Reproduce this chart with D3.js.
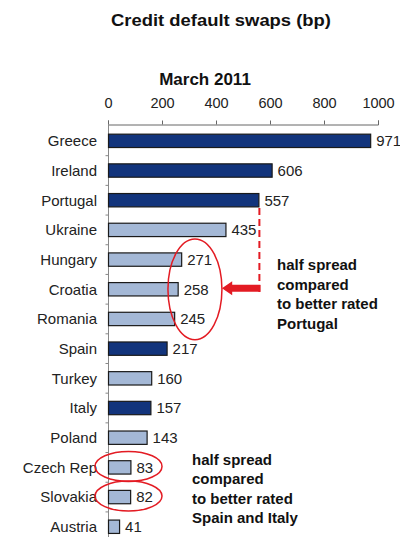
<!DOCTYPE html>
<html>
<head>
<meta charset="utf-8">
<script src="https://cdn.jsdelivr.net/npm/d3@7"></script>
<style>
  body { margin: 0; background: #fff; }
  text { font-family: "Liberation Sans", Arial, sans-serif; }
</style>
</head>
<body>
<svg id="chart" width="400" height="537"></svg>
<script>
// data
const countries = ["Greece", "Ireland", "Portugal", "Ukraine", "Hungary", "Croatia", "Romania",
  "Spain", "Turkey", "Italy", "Poland", "Czech Rep", "Slovakia", "Austria"];
const cds = [971, 606, 557, 435, 271, 258, 245, 217, 160, 157, 143, 83, 82, 41];
const euro = [true, true, true, false, false, false, false, true, false, true, false, false, false, false];
const tickValues = [0, 200, 400, 600, 800, 1000];
const note1 = ["half spread", "compared", "to better rated", "Portugal"];
const note2 = ["half spread", "compared", "to better rated", "Spain and Italy"];

const data = countries.map((c, i) => ({ name: c, value: cds[i], euro: euro[i] }));

const svg = d3.select("#chart");
const red = "#e31b23";

const x = d3.scaleLinear().domain([0, 1000]).range([108, 378]);
const y = d3.scaleBand()
  .domain(countries)
  .range([126, 541.6])
  .paddingInner(0.55)
  .paddingOuter(0.275);

svg.append("text")
  .attr("x", 221).attr("y", 26)
  .attr("text-anchor", "middle")
  .attr("font-size", 17).attr("font-weight", "bold")
  .attr("textLength", 220).attr("lengthAdjust", "spacingAndGlyphs")
  .attr("fill", "#111")
  .text("Credit default swaps (bp)");

svg.append("text")
  .attr("x", 205).attr("y", 85)
  .attr("text-anchor", "middle")
  .attr("font-size", 17).attr("font-weight", "bold")
  .attr("fill", "#111")
  .text("March 2011");

// top axis
const xAxis = svg.append("g")
  .attr("transform", "translate(0,124.5)")
  .call(d3.axisTop(x).tickValues(tickValues).tickFormat(d3.format("d")).tickSize(4).tickPadding(13));
xAxis.select(".domain").attr("stroke", "#666");
xAxis.selectAll(".tick line").attr("stroke", "#666");
xAxis.selectAll("text").attr("font-size", 14.5).attr("fill", "#222");

// left axis: ticks between rows
const yAxis = svg.append("g").attr("transform", "translate(108.5,0)");
yAxis.append("line")
  .attr("y1", 124).attr("y2", 537)
  .attr("stroke", "#888");
yAxis.selectAll(".sep")
  .data(countries.slice(1))
  .enter().append("line")
  .attr("class", "sep")
  .attr("x1", -3).attr("x2", 0)
  .attr("y1", d => y(d) - y.step() * y.paddingInner() / 2)
  .attr("y2", d => y(d) - y.step() * y.paddingInner() / 2)
  .attr("stroke", "#888");

svg.selectAll(".cat")
  .data(data)
  .enter().append("text")
  .attr("class", "cat")
  .attr("x", 97)
  .attr("y", d => y(d.name) + y.bandwidth() / 2)
  .attr("dy", "0.36em")
  .attr("text-anchor", "end")
  .attr("font-size", 15)
  .attr("fill", "#222")
  .text(d => d.name);

svg.selectAll(".bar")
  .data(data)
  .enter().append("rect")
  .attr("class", "bar")
  .attr("x", x(0) + 0.5)
  .attr("y", d => y(d.name))
  .attr("width", d => x(d.value) - x(0))
  .attr("height", y.bandwidth())
  .attr("fill", d => d.euro ? "#12347c" : "#a4b8d6")
  .attr("stroke", "#1a1a1a")
  .attr("stroke-width", 1.2);

svg.selectAll(".val")
  .data(data)
  .enter().append("text")
  .attr("class", "val")
  .attr("x", d => x(d.value) + 6)
  .attr("y", d => y(d.name) + y.bandwidth() / 2)
  .attr("dy", "0.36em")
  .attr("font-size", 15)
  .attr("fill", "#222")
  .text(d => d.value);

// annotation: dashed line from Portugal down, arrow to the CEE group
const px = x(557);
const cy = y("Croatia") + y.bandwidth() / 2 - 1;
svg.append("line")
  .attr("x1", px + 1).attr("x2", px + 1)
  .attr("y1", y("Portugal") + y.bandwidth() + 1)
  .attr("y2", cy + 5)
  .attr("stroke", red).attr("stroke-width", 2)
  .attr("stroke-dasharray", "7,4");

const tip = x(422), head = x(460);
svg.append("path")
  .attr("d", `M${tip},${cy} L${head},${cy - 7} L${head},${cy - 3.5} L${px + 2},${cy - 3.5}
    L${px + 2},${cy + 3.5} L${head},${cy + 3.5} L${head},${cy + 7} Z`)
  .attr("fill", red);

const hy = y("Hungary"), ry = y("Romania") + y.bandwidth();
svg.append("ellipse")
  .attr("cx", x(322)).attr("cy", (hy + ry) / 2)
  .attr("rx", 27).attr("ry", (ry - hy) / 2 + 14)
  .attr("fill", "none").attr("stroke", red).attr("stroke-width", 1.5);

["Czech Rep", "Slovakia"].forEach(c => {
  svg.append("ellipse")
    .attr("cx", x(76)).attr("cy", y(c) + y.bandwidth() / 2 - 1)
    .attr("rx", 33.5).attr("ry", 15)
    .attr("fill", "none").attr("stroke", red).attr("stroke-width", 1.5);
});

svg.append("text")
  .attr("font-size", 15).attr("font-weight", "bold").attr("fill", "#111")
  .selectAll("tspan").data(note1).enter().append("tspan")
  .attr("x", 277).attr("y", (d, i) => 270 + i * 19.6)
  .text(d => d);

svg.append("text")
  .attr("font-size", 15).attr("font-weight", "bold").attr("fill", "#111")
  .selectAll("tspan").data(note2).enter().append("tspan")
  .attr("x", 192).attr("y", (d, i) => 465 + i * 19.4)
  .text(d => d);
</script>
</body>
</html>
